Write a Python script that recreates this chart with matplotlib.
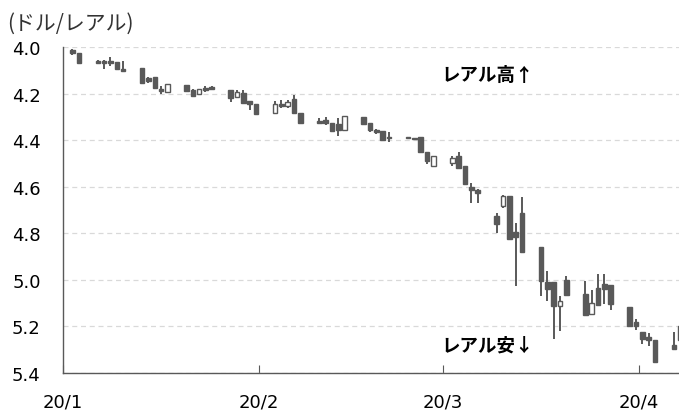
import numpy as np
import matplotlib
matplotlib.use("Agg")
import matplotlib.pyplot as plt
import matplotlib.dates as mdates

plt.rcParams['font.family'] = ['Noto Sans CJK JP', 'DejaVu Sans']

# 日付 (営業日) と四本値 (ドル/レアル)
dates = ["2020-01-02", "2020-01-03", "2020-01-06", "2020-01-07", "2020-01-08",
         "2020-01-09", "2020-01-10", "2020-01-13", "2020-01-14", "2020-01-15",
         "2020-01-16", "2020-01-17", "2020-01-20", "2020-01-21", "2020-01-22",
         "2020-01-23", "2020-01-24", "2020-01-27", "2020-01-28", "2020-01-29",
         "2020-01-30", "2020-01-31", "2020-02-03", "2020-02-04", "2020-02-05",
         "2020-02-06", "2020-02-07", "2020-02-10", "2020-02-11", "2020-02-12",
         "2020-02-13", "2020-02-14", "2020-02-17", "2020-02-18", "2020-02-19",
         "2020-02-20", "2020-02-21", "2020-02-24", "2020-02-25", "2020-02-26",
         "2020-02-27", "2020-02-28", "2020-03-02", "2020-03-03", "2020-03-04",
         "2020-03-05", "2020-03-06", "2020-03-09", "2020-03-10", "2020-03-11",
         "2020-03-12", "2020-03-13", "2020-03-16", "2020-03-17", "2020-03-18",
         "2020-03-19", "2020-03-20", "2020-03-23", "2020-03-24", "2020-03-25",
         "2020-03-26", "2020-03-27", "2020-03-30", "2020-03-31", "2020-04-01",
         "2020-04-02", "2020-04-03", "2020-04-06", "2020-04-07"]

opens = [4.015, 4.027, 4.062, 4.060, 4.060, 4.064, 4.095, 4.091, 4.135, 4.127,
         4.180, 4.193, 4.164, 4.185, 4.203, 4.176, 4.172, 4.186, 4.213, 4.196,
         4.232, 4.243, 4.282, 4.245, 4.255, 4.224, 4.282, 4.318, 4.315, 4.325,
         4.330, 4.356, 4.299, 4.325, 4.356, 4.360, 4.385, 4.388, 4.389, 4.386,
         4.453, 4.513, 4.500, 4.470, 4.511, 4.600, 4.615, 4.725, 4.682, 4.639,
         4.793, 4.711, 4.858, 5.011, 5.008, 5.111, 5.000, 5.061, 5.147, 5.037,
         5.019, 5.023, 5.116, 5.180, 5.223, 5.245, 5.257, 5.280, 5.200]
highs = [4.035, 4.072, 4.075, 4.093, 4.081, 4.093, 4.107, 4.153, 4.153, 4.180,
         4.203, 4.193, 4.193, 4.215, 4.203, 4.195, 4.186, 4.236, 4.213, 4.239,
         4.270, 4.289, 4.286, 4.260, 4.262, 4.282, 4.325, 4.329, 4.336, 4.360,
         4.382, 4.356, 4.329, 4.367, 4.372, 4.400, 4.410, 4.391, 4.392, 4.453,
         4.504, 4.513, 4.510, 4.518, 4.589, 4.671, 4.672, 4.797, 4.690, 4.825,
         5.028, 4.882, 5.069, 5.090, 5.255, 5.219, 5.066, 5.152, 5.147, 5.109,
         5.104, 5.129, 5.197, 5.215, 5.276, 5.286, 5.354, 5.300, 5.300]
lows = [4.007, 4.025, 4.055, 4.056, 4.045, 4.064, 4.061, 4.091, 4.127, 4.127,
        4.167, 4.157, 4.162, 4.180, 4.182, 4.167, 4.167, 4.186, 4.186, 4.186,
        4.232, 4.243, 4.232, 4.227, 4.226, 4.207, 4.282, 4.307, 4.299, 4.325,
        4.307, 4.296, 4.299, 4.325, 4.350, 4.360, 4.367, 4.388, 4.389, 4.386,
        4.453, 4.470, 4.470, 4.453, 4.511, 4.586, 4.610, 4.711, 4.636, 4.639,
        4.754, 4.644, 4.858, 4.961, 5.008, 5.069, 4.983, 5.007, 5.043, 4.973,
        4.973, 5.023, 5.116, 5.169, 5.223, 5.229, 5.257, 5.226, 5.178]
closes = [4.025, 4.070, 4.068, 4.068, 4.070, 4.093, 4.105, 4.153, 4.145, 4.175,
          4.190, 4.157, 4.190, 4.210, 4.182, 4.184, 4.180, 4.217, 4.193, 4.239,
          4.245, 4.289, 4.246, 4.255, 4.235, 4.282, 4.325, 4.326, 4.325, 4.360,
          4.355, 4.296, 4.329, 4.356, 4.367, 4.400, 4.392, 4.391, 4.392, 4.453,
          4.489, 4.470, 4.475, 4.518, 4.589, 4.612, 4.627, 4.761, 4.639, 4.825,
          4.818, 4.882, 5.004, 5.040, 5.111, 5.090, 5.066, 5.152, 5.100, 5.109,
          5.040, 5.104, 5.197, 5.200, 5.255, 5.260, 5.354, 5.295, 5.260]

yticks = [4.0, 4.2, 4.4, 4.6, 4.8, 5.0, 5.2, 5.4]
xtick_dates = ["2020-01-01", "2020-02-01", "2020-03-01", "2020-04-01"]
xtick_labels = ["20/1", "20/2", "20/3", "20/4"]

col = '#595959'
fig = plt.figure(figsize=(6.79, 4.14), dpi=100)
ax = fig.add_axes([63/679, 40/414, 616/679, 326/414])

x = mdates.datestr2num(dates) + 0.5
w = 0.72
for xi, o, h, l, c in zip(x, opens, highs, lows, closes):
    ax.plot([xi, xi], [l, h], color=col, lw=1.4, solid_capstyle='butt', zorder=2)
    lo, hi = min(o, c), max(o, c)
    hgt = max(hi - lo, 0.004)
    up = c >= o
    ax.add_patch(plt.Rectangle((xi - w/2, lo), w, hgt,
                               facecolor=col if up else 'white',
                               edgecolor=col, lw=1.0, zorder=3))

x0 = mdates.datestr2num("2020-01-01")
ax.set_xlim(x0, x0 + 97.3)
ax.set_ylim(5.4, 4.0)

ax.set_yticks(yticks)
ax.set_yticklabels([f"{v:.1f}" for v in yticks], family='DejaVu Sans', fontsize=13)
ax.set_xticks(mdates.datestr2num(xtick_dates))
ax.set_xticklabels(xtick_labels, family='DejaVu Sans', fontsize=13)
ax.tick_params(axis='y', length=0, pad=16)
ax.tick_params(axis='x', direction='in', length=6, color=col, pad=14)

ax.grid(axis='y', color='#d9d9d9', ls=(0, (4, 3)), lw=0.9)
ax.set_axisbelow(True)
for s in ['top', 'right']:
    ax.spines[s].set_visible(False)
for s in ['left', 'bottom']:
    ax.spines[s].set_color(col)
    ax.spines[s].set_linewidth(1.0)

fig.text(7/679, 1 - 24/414, "(ドル/レアル)", fontsize=15, color='#333333', va='center')
ax.text(x0 + 59.8, 4.117, "レアル高↑", fontsize=13.3, fontweight='bold', va='center')
ax.text(x0 + 59.8, 5.278, "レアル安↓", fontsize=13.3, fontweight='bold', va='center')

fig.savefig("out.png", dpi=100)
